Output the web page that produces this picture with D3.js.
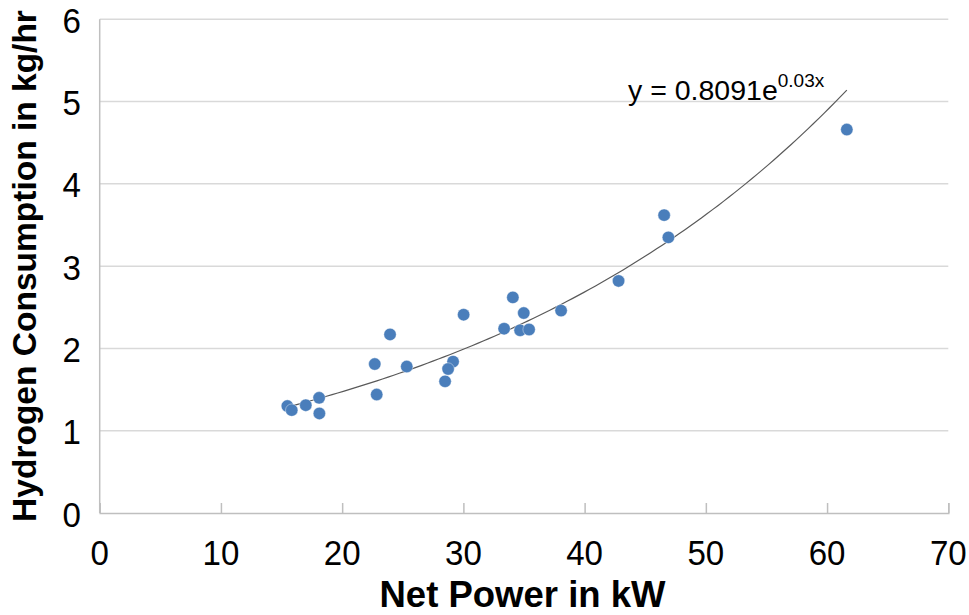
<!DOCTYPE html>
<html>
<head>
<meta charset="utf-8">
<script src="https://cdn.jsdelivr.net/npm/d3@7/dist/d3.min.js"></script>
<style>
html,body{margin:0;padding:0;background:#fff;}
svg{display:block;}
text{font-family:"Liberation Sans",Arial,sans-serif;fill:#000;}
</style>
</head>
<body>
<svg id="chart" width="969" height="615"></svg>
<script>
// ---- data ----
const netPowerKW = [15.48,15.84,17.0,18.1,18.12,22.85,22.69,23.95,25.33,29.15,28.74,28.49,30.02,33.36,34.08,34.98,34.68,35.42,38.06,42.8,46.56,46.91,61.63];
const h2KgPerHr  = [1.30,1.25,1.31,1.40,1.21,1.44,1.81,2.17,1.78,1.84,1.75,1.60,2.41,2.24,2.62,2.43,2.22,2.23,2.46,2.82,3.62,3.35,4.66];
const xTicks = [0,10,20,30,40,50,60,70];
const yTicks = [0,1,2,3,4,5,6];
const trendA = 0.8091, trendB = 0.03;
const trendRange = [15.48, 61.63];
const xTitle = "Net Power in kW";
const yTitle = "Hydrogen Consumption in kg/hr";

// ---- layout ----
const svg = d3.select("#chart");
const L = 99.7, R = 948.3, T = 19.3, B = 513;
const x = d3.scaleLinear().domain([0,70]).range([L,R]);
const y = d3.scaleLinear().domain([0,6]).range([B,T]);

// gridlines
svg.append("g").selectAll("line").data(yTicks.filter(d=>d>0)).join("line")
  .attr("x1",L).attr("x2",R).attr("y1",d=>y(d)).attr("y2",d=>y(d))
  .attr("stroke","#d9d9d9").attr("stroke-width",1.5);

// x axis (ticks inside)
const xAxis = svg.append("g").attr("transform",`translate(0,${B})`)
  .call(d3.axisTop(x).tickValues(xTicks).tickSize(10).tickFormat(""));
xAxis.select(".domain").attr("stroke","#bfbfbf").attr("stroke-width",1.5);
xAxis.selectAll(".tick line").attr("stroke","#bfbfbf").attr("stroke-width",1.5);

// y axis line
svg.append("line").attr("x1",L).attr("x2",L).attr("y1",T).attr("y2",B)
  .attr("stroke","#bfbfbf").attr("stroke-width",1.5);

// tick labels
const sx = 0.92;
svg.append("g").selectAll("text").data(xTicks).join("text")
  .attr("transform",d=>`translate(${x(d)},565) scale(${sx},1)`)
  .attr("text-anchor","middle").attr("font-size",36).text(d=>d);
svg.append("g").selectAll("text").data(yTicks).join("text")
  .attr("transform",d=>`translate(81,${y(d)+13.5}) scale(${sx},1)`)
  .attr("text-anchor","end").attr("font-size",36).text(d=>d);

// axis titles
svg.append("text").attr("transform",`translate(${(378+667)/2},607)`)
  .attr("text-anchor","middle").attr("font-size",36.5).attr("font-weight","bold").text(xTitle);
svg.append("text").attr("transform",`translate(36,266) rotate(-90)`)
  .attr("text-anchor","middle").attr("font-size",33.5).attr("font-weight","bold").text(yTitle);

// trend line
const tx = d3.range(0,101).map(i=>trendRange[0]+(trendRange[1]-trendRange[0])*i/100);
svg.append("path")
  .attr("d", d3.line().x(d=>x(d)).y(d=>y(trendA*Math.exp(trendB*d)))(tx))
  .attr("fill","none").attr("stroke","#595959").attr("stroke-width",1.2);

// points
svg.append("g").selectAll("circle").data(netPowerKW).join("circle")
  .attr("cx",d=>x(d)).attr("cy",(d,i)=>y(h2KgPerHr[i])).attr("r",6.2)
  .attr("fill","#4a7ebb").attr("stroke","#ffffff").attr("stroke-opacity",0.5).attr("stroke-width",0.8);

// equation
const eq = svg.append("text").attr("transform","translate(628,100)").attr("font-size",28.5);
eq.append("tspan").text(`y = ${trendA}e`);
eq.append("tspan").attr("font-size",19).attr("dy",-13).text(`${trendB}x`);
</script>
</body>
</html>
